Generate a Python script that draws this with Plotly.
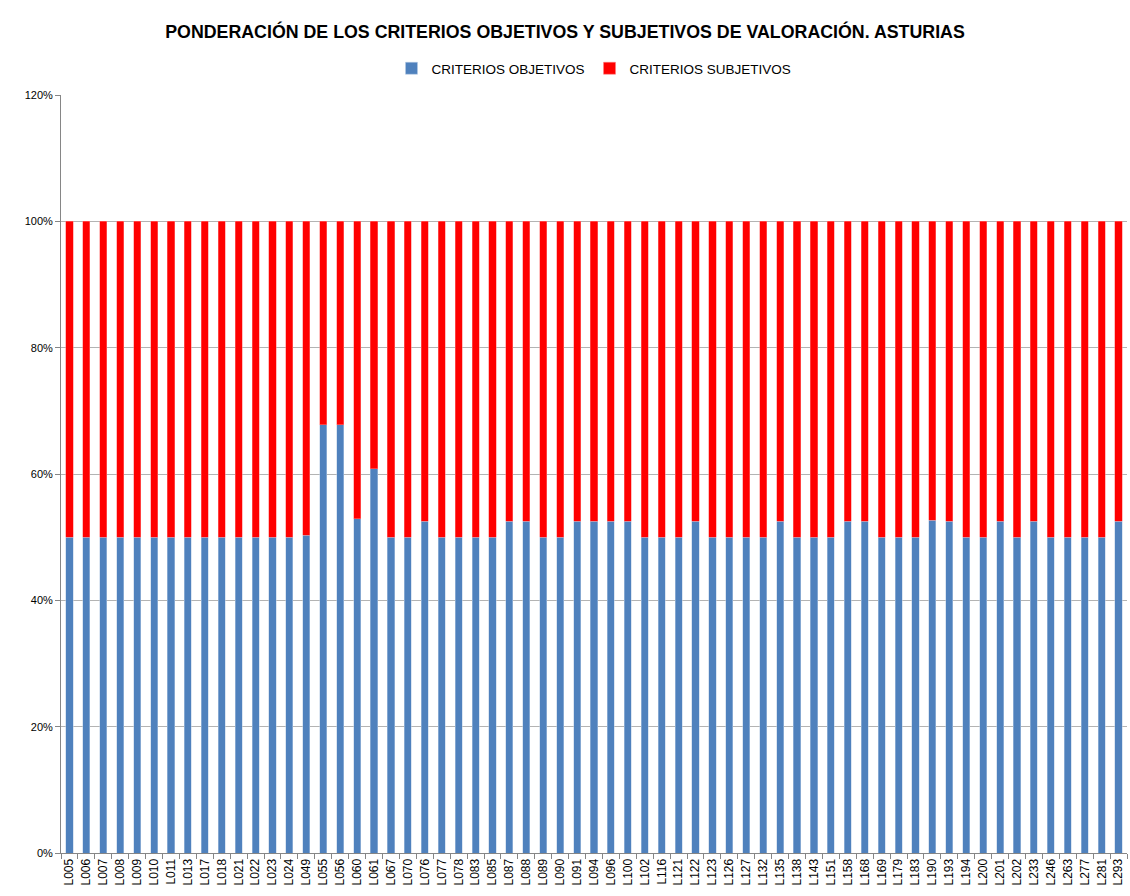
import plotly.graph_objects as go

# lot codes on the x axis
lotes = [
    "L005", "L006", "L007", "L008", "L009", "L010", "L011", "L013", "L017", "L018",
    "L021", "L022", "L023", "L024", "L049", "L055", "L056", "L060", "L061", "L067",
    "L070", "L076", "L077", "L078", "L083", "L085", "L087", "L088", "L089", "L090",
    "L091", "L094", "L096", "L100", "L102", "L116", "L121", "L122", "L123", "L126",
    "L127", "L132", "L135", "L138", "L143", "L151", "L158", "L168", "L169", "L179",
    "L183", "L190", "L193", "L194", "L200", "L201", "L202", "L233", "L246", "L263",
    "L277", "L281", "L293",
]

# share of objective criteria (%)
objetivos = [
    50, 50, 50, 50, 50, 50, 50, 50, 50, 50,
    50, 50, 50, 50, 50.3, 67.8, 67.8, 52.9, 60.8, 50,
    50, 52.5, 50, 50, 50, 50, 52.5, 52.5, 50, 50,
    52.5, 52.5, 52.5, 52.5, 50, 50, 50, 52.5, 50, 50,
    50, 50, 52.5, 50, 50, 50, 52.5, 52.5, 50, 50,
    50, 52.7, 52.5, 50, 50, 52.5, 50, 52.5, 50, 50,
    50, 50, 52.5,
]
subjetivos = [100 - v for v in objetivos]

font_excel = "Liberation Sans Narrow, Arial Narrow, Liberation Sans, sans-serif"

fig = go.Figure()
fig.add_trace(go.Bar(
    x=lotes, y=[v / 100 for v in objetivos],
    name="CRITERIOS OBJETIVOS",
    marker=dict(color="#4F81BD", line=dict(color="#B9CDE5", width=0.5)),
))
fig.add_trace(go.Bar(
    x=lotes, y=[v / 100 for v in subjetivos],
    name="CRITERIOS SUBJETIVOS",
    marker=dict(color="#FF0000", line=dict(color="#FF8080", width=0.5)),
))

fig.update_layout(
    barmode="stack",
    bargap=0.58,
    width=1130, height=896,
    margin=dict(l=61, r=3, t=95, b=43),
    paper_bgcolor="white",
    plot_bgcolor="white",
    font=dict(family=font_excel, color="#000000"),
    title=dict(
        text="<b>PONDERACIÓN DE LOS CRITERIOS OBJETIVOS Y SUBJETIVOS DE VALORACIÓN. ASTURIAS</b>",
        x=0.5, xanchor="center", y=0.965, yanchor="middle",
        font=dict(size=17.8, family=font_excel),
    ),
    legend=dict(
        orientation="h", x=0.5, xanchor="center", y=1.035, yanchor="middle",
        font=dict(size=13.5, family=font_excel),
        traceorder="normal", itemwidth=30,
    ),
    showlegend=True,
)

fig.update_yaxes(
    range=[0, 1.2], dtick=0.2, tickformat=".0%",
    showgrid=True, gridcolor="#B3B3B3", gridwidth=1,
    showline=True, linecolor="#868686", linewidth=1,
    ticks="outside", ticklen=5, tickcolor="#868686",
    tickfont=dict(size=11, family="Liberation Sans, Arial, sans-serif"),
    zeroline=False,
)
fig.update_xaxes(
    type="category", tickangle=-90,
    showline=True, linecolor="#868686", linewidth=1,
    ticks="outside", ticklen=5, tickcolor="#868686", tickson="boundaries",
    tickfont=dict(size=12, family="Liberation Sans, Arial, sans-serif"),
    range=[-0.5, len(lotes) - 0.5],
)

# drop the page's default body margin so the figure fills the window
fig.write_html(
    "out.html",
    config={"displayModeBar": False},
    post_script="document.body.style.margin='0';",
)
